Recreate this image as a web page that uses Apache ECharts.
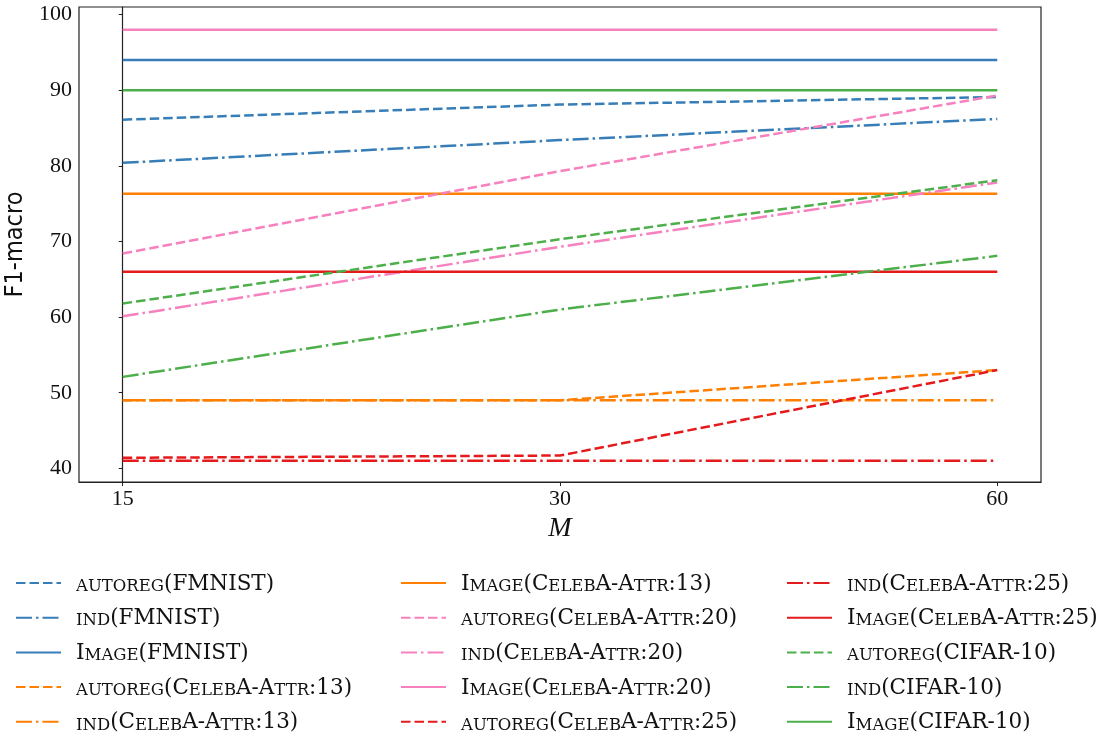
<!DOCTYPE html>
<html>
<head>
<meta charset="utf-8">
<script src="https://cdn.jsdelivr.net/npm/echarts@6/dist/echarts.min.js"></script>
<style>
  html, body { margin: 0; padding: 0; background: #fff; }
  #chart { width: 1113px; height: 736px; }
</style>
</head>
<body>
<div id="chart"></div>
<script>
// x categories (M) and y tick labels
const mValues = ['15', '30', '60']
const yTicks = [40, 50, 60, 70, 80, 90, 100]

// F1-macro per M
const autoregFmnist = [86.1, 88.1, 89.1]
const indFmnist = [80.4, 83.4, 86.2]
const imageFmnist = [94, 94, 94]
const autoregCeleba13 = [49, 49, 53]
const indCeleba13 = [49, 49, 49]
const imageCeleba13 = [76.3, 76.3, 76.3]
const autoregCeleba20 = [68.4, 79.3, 89.3]
const indCeleba20 = [60.1, 69.3, 77.8]
const imageCeleba20 = [98, 98, 98]
const autoregCeleba25 = [41.4, 41.7, 53]
const indCeleba25 = [41, 41, 41]
const imageCeleba25 = [66, 66, 66]
const autoregCifar = [61.8, 70.3, 78.1]
const indCifar = [52.1, 61, 68.1]
const imageCifar = [90, 90, 90]

const BLUE = '#377eb8'
const ORANGE = '#ff7f00'
const PINK = '#f781bf'
const RED = '#e41a1c'
const GREEN = '#4daf4a'

const DASH = [9.5, 4]
const DASHDOT = [16, 4, 2.5, 4]

const serif = '"Liberation Serif", "DejaVu Serif", serif'
const legendSerif = '"DejaVu Serif", serif'

function mkLine(name, data, color, type) {
  return {
    name: name,
    type: 'line',
    symbol: 'none',
    data: data.map((v, i) => [i, v]),
    lineStyle: { color: color, width: 2.5, type: type },
    itemStyle: { color: color },
    animation: false
  }
}

// lowercase letters -> small caps (upper case, smaller)
function smallCaps(name) {
  let out = ''
  let run = ''
  let runSmall = null
  const flush = () => {
    if (run) out += '{' + (runSmall ? 's' : 'n') + '|' + run + '}'
    run = ''
  }
  for (const ch of name) {
    const small = ch >= 'a' && ch <= 'z'
    if (runSmall !== null && small !== runSmall) flush()
    runSmall = small
    run += small ? ch.toUpperCase() : ch
  }
  flush()
  return out
}

const series = [
  mkLine('autoreg(FMNIST)', autoregFmnist, BLUE, DASH),
  mkLine('ind(FMNIST)', indFmnist, BLUE, DASHDOT),
  mkLine('Image(FMNIST)', imageFmnist, BLUE, 'solid'),
  mkLine('autoreg(CelebA-Attr:13)', autoregCeleba13, ORANGE, DASH),
  mkLine('ind(CelebA-Attr:13)', indCeleba13, ORANGE, DASHDOT),
  mkLine('Image(CelebA-Attr:13)', imageCeleba13, ORANGE, 'solid'),
  mkLine('autoreg(CelebA-Attr:20)', autoregCeleba20, PINK, DASH),
  mkLine('ind(CelebA-Attr:20)', indCeleba20, PINK, DASHDOT),
  mkLine('Image(CelebA-Attr:20)', imageCeleba20, PINK, 'solid'),
  mkLine('autoreg(CelebA-Attr:25)', autoregCeleba25, RED, DASH),
  mkLine('ind(CelebA-Attr:25)', indCeleba25, RED, DASHDOT),
  mkLine('Image(CelebA-Attr:25)', imageCeleba25, RED, 'solid'),
  mkLine('autoreg(CIFAR-10)', autoregCifar, GREEN, DASH),
  mkLine('ind(CIFAR-10)', indCifar, GREEN, DASHDOT),
  mkLine('Image(CIFAR-10)', imageCifar, GREEN, 'solid')
]

const names = series.map(s => s.name)

function legendCol(left, items) {
  return {
    orient: 'vertical',
    left: left,
    top: 573,
    height: 200,
    padding: 0,
    itemWidth: 45,
    itemHeight: 14,
    itemGap: 12.7,
    selectedMode: false,
    data: items,
    formatter: smallCaps,
    itemStyle: { opacity: 0 },
    textStyle: {
      padding: [0, 0, 0, 10],
      rich: {
        n: { fontFamily: legendSerif, fontSize: 21.5, color: '#111', lineHeight: 24, verticalAlign: 'bottom' },
        s: { fontFamily: legendSerif, fontSize: 16.5, color: '#111', lineHeight: 21, verticalAlign: 'bottom' }
      }
    }
  }
}

const chart = echarts.init(document.getElementById('chart'))
chart.setOption({
  backgroundColor: '#fff',
  animation: false,
  grid: {
    left: 79,
    right: 72,
    top: 7,
    height: 475,
    outerBoundsMode: 'none',
    show: true,
    borderColor: '#222',
    borderWidth: 1.2,
    backgroundColor: 'transparent'
  },
  xAxis: {
    type: 'value',
    min: -0.1,
    max: 2.1,
    name: 'M',
    nameLocation: 'middle',
    nameGap: 24,
    nameTextStyle: { fontFamily: serif, fontStyle: 'italic', fontSize: 28, color: '#111' },
    axisLine: { lineStyle: { color: '#222', width: 1.2 } },
    axisTick: { show: true, length: 4, customValues: [0, 1, 2], lineStyle: { color: '#222' } },
    axisLabel: {
      customValues: [0, 1, 2],
      formatter: v => mValues[Math.round(v)],
      margin: 6,
      fontFamily: serif,
      fontSize: 22,
      color: '#111'
    },
    splitLine: { show: false }
  },
  yAxis: {
    type: 'value',
    min: 38.2,
    max: 101,
    name: 'F1-macro',
    nameLocation: 'middle',
    nameGap: 45,
    nameTextStyle: { fontFamily: '"DejaVu Sans Condensed", "DejaVu Sans", sans-serif', fontSize: 25, color: '#111' },
    axisLine: { show: true, lineStyle: { color: '#222', width: 1.2 } },
    axisTick: { show: true, length: 4, customValues: yTicks, lineStyle: { color: '#222' } },
    axisLabel: {
      customValues: yTicks,
      margin: 7,
      fontFamily: serif,
      fontSize: 22,
      color: '#111'
    },
    splitLine: { show: false }
  },
  legend: [
    legendCol(15, names.slice(0, 5)),
    legendCol(400, names.slice(5, 10)),
    legendCol(786, names.slice(10, 15))
  ],
  series: series
})
</script>
</body>
</html>
